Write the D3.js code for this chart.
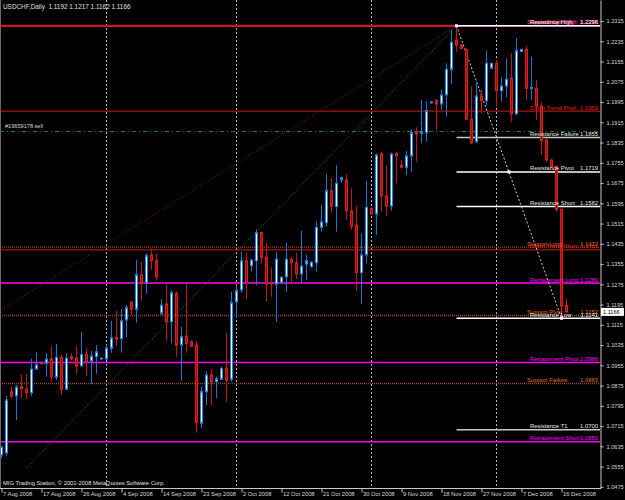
<!DOCTYPE html>
<html>
<head>
<meta charset="utf-8">
<script src="https://cdn.jsdelivr.net/npm/d3@7"></script>
<style>
body { margin: 0; background: #000; }
svg { display: block; font-family: "Liberation Sans", Arial, sans-serif; }
</style>
</head>
<body>
<div id="chart"></div>
<script>
// daily bars, Sun..Fri sessions
var dates = [
  "2008-08-07","2008-08-08",
  "2008-08-10","2008-08-11","2008-08-12","2008-08-13","2008-08-14","2008-08-15",
  "2008-08-17","2008-08-18","2008-08-19","2008-08-20","2008-08-21","2008-08-22",
  "2008-08-24","2008-08-25","2008-08-26","2008-08-27","2008-08-28","2008-08-29",
  "2008-08-31","2008-09-01","2008-09-02","2008-09-03","2008-09-04","2008-09-05",
  "2008-09-07","2008-09-08","2008-09-09","2008-09-10","2008-09-11","2008-09-12",
  "2008-09-14","2008-09-15","2008-09-16","2008-09-17","2008-09-18","2008-09-19",
  "2008-09-21","2008-09-22","2008-09-23","2008-09-24","2008-09-25","2008-09-26",
  "2008-09-28","2008-09-29","2008-09-30","2008-10-01","2008-10-02","2008-10-03",
  "2008-10-05","2008-10-06","2008-10-07","2008-10-08","2008-10-09","2008-10-10",
  "2008-10-12","2008-10-13","2008-10-14","2008-10-15","2008-10-16","2008-10-17",
  "2008-10-19","2008-10-20","2008-10-21","2008-10-22","2008-10-23","2008-10-24",
  "2008-10-26","2008-10-27","2008-10-28","2008-10-29","2008-10-30","2008-10-31",
  "2008-11-02","2008-11-03","2008-11-04","2008-11-05","2008-11-06","2008-11-07",
  "2008-11-09","2008-11-10","2008-11-11","2008-11-12","2008-11-13","2008-11-14",
  "2008-11-16","2008-11-17","2008-11-18","2008-11-19","2008-11-20","2008-11-21",
  "2008-11-23","2008-11-24","2008-11-25","2008-11-26","2008-11-27","2008-11-28",
  "2008-11-30","2008-12-01","2008-12-02","2008-12-03","2008-12-04","2008-12-05",
  "2008-12-07","2008-12-08","2008-12-09","2008-12-10","2008-12-11","2008-12-12",
  "2008-12-14","2008-12-15","2008-12-16","2008-12-17"
];

var open = [
  1.0601,1.0609, 1.0851,1.0834,1.0871,1.0861,1.0847,1.0940, 1.0963,1.0963,1.0980,1.0908,1.0987,1.0860,
  1.0989,1.0984,1.0952,1.0998,1.0971,1.0989, 1.0980,1.0980,1.1022,1.1066,1.1060,1.1134,
  1.1204,1.1176,1.1312,1.1279,1.1391,1.1368, 1.1160,1.1197,1.1127,1.1240,1.1035,1.1071,
  1.1048,1.1035,1.0726,1.0851,1.0917,1.0890, 1.0900,1.0943,1.0900,1.1206,1.1253,1.1368,
  1.1348,1.1368,1.1479,1.1382,1.1281,1.1276, 1.1281,1.1305,1.1374,1.1360,1.1316,1.1355,
  1.1345,1.1360,1.1500,1.1518,1.1645,1.1582, 1.1687,1.1687,1.1565,1.1509,1.1321,1.1391,
  1.1575,1.1553,1.1790,1.1624,1.1584,1.1792, 1.1746,1.1737,1.1782,1.1877,1.1871,1.1874,
  1.1992,1.2000,1.1987,1.2023,1.2124,1.2240, 1.2220,1.2203,1.1927,1.1838,1.2019,1.2000,
  1.2128,1.2148,1.2040,1.2058,1.2089,1.1948, 1.2194,1.2203,1.2049,1.2049,1.1979,1.1845,
  1.1766,1.1740,1.1571,1.1192
];
var high = [
  1.0636,1.0835, 1.0871,1.0877,1.0921,1.0921,1.0981,1.1008, 1.0965,1.1004,1.1031,1.1039,1.0996,1.1004,
  1.1004,1.1031,1.1087,1.1022,1.1012,1.1035, 1.0987,1.1035,1.1130,1.1171,1.1177,1.1193,
  1.1209,1.1371,1.1364,1.1397,1.1417,1.1397, 1.1217,1.1275,1.1250,1.1246,1.1108,1.1275,
  1.1055,1.1052,1.0871,1.0930,1.0940,1.0910, 1.0950,1.1084,1.1246,1.1272,1.1404,1.1400,
  1.1374,1.1492,1.1483,1.1439,1.1342,1.1404, 1.1308,1.1439,1.1384,1.1400,1.1487,1.1391,
  1.1366,1.1522,1.1588,1.1711,1.1694,1.1746, 1.1698,1.1711,1.1654,1.1584,1.1476,1.1684,
  1.1579,1.1792,1.1799,1.1746,1.1795,1.1799, 1.1766,1.1801,1.1887,1.1895,1.2003,1.1996,
  1.1999,1.2006,1.2043,1.2148,1.2280,1.2296, 1.2224,1.2207,1.2056,1.2075,1.2043,1.2198,
  1.2150,1.2161,1.2095,1.2168,1.2187,1.2247, 1.2204,1.2216,1.2174,1.2082,1.1996,1.1852,
  1.1769,1.1746,1.1575,1.1217
];
var low = [
  1.0589,1.0597, 1.0826,1.0739,1.0827,1.0822,1.0834,1.0938, 1.0958,1.0910,1.0890,1.0897,1.0838,1.0858,
  1.0976,1.0921,1.0950,1.0913,1.0881,1.0921, 1.0976,1.0976,1.1004,1.1031,1.1005,1.1066,
  1.1154,1.1123,1.1210,1.1239,1.1332,1.1289, 1.1154,1.1052,1.1042,1.0989,1.0894,1.1005,
  1.1027,1.0689,1.0707,1.0798,1.0798,1.0825, 1.0897,1.0811,1.0890,1.1141,1.1242,1.1216,
  1.1325,1.1272,1.1358,1.1206,1.1226,1.1127, 1.1276,1.1246,1.1276,1.1295,1.1281,1.1292,
  1.1340,1.1325,1.1483,1.1503,1.1558,1.1483, 1.1676,1.1529,1.1490,1.1250,1.1197,1.1358,
  1.1549,1.1470,1.1562,1.1545,1.1566,1.1674, 1.1734,1.1707,1.1720,1.1759,1.1832,1.1838,
  1.1988,1.1885,1.1964,1.1937,1.2066,1.2194, 1.2203,1.1924,1.1829,1.1834,1.1951,1.1983,
  1.2126,1.1977,1.1996,1.2014,1.1917,1.1944, 1.2193,1.2003,1.2003,1.1924,1.1786,1.1759,
  1.1734,1.1562,1.1141,1.1162
];
var close = [
  1.0632,1.0818, 1.0834,1.0869,1.0863,1.0847,1.0940,1.0957, 1.0961,1.0980,1.0910,1.0987,1.0860,1.0984,
  1.0980,1.0952,1.0998,1.0968,1.0992,1.1008, 1.0983,1.1023,1.1064,1.1058,1.1131,1.1183,
  1.1177,1.1313,1.1279,1.1388,1.1368,1.1305, 1.1193,1.1127,1.1242,1.1035,1.1068,1.1042,
  1.1031,1.0728,1.0851,1.0917,1.0890,1.0902, 1.0943,1.0897,1.1202,1.1250,1.1368,1.1285,
  1.1371,1.1479,1.1382,1.1276,1.1276,1.1374, 1.1303,1.1374,1.1360,1.1316,1.1347,1.1368,
  1.1362,1.1500,1.1522,1.1645,1.1584,1.1674, 1.1696,1.1565,1.1505,1.1321,1.1391,1.1579,
  1.1553,1.1786,1.1624,1.1584,1.1790,1.1782, 1.1737,1.1782,1.1874,1.1869,1.1878,1.1961,
  1.1996,1.1987,1.2023,1.2124,1.2231,1.2220, 1.2207,1.1927,1.1834,1.2019,1.2000,1.2148,
  1.2148,1.2040,1.2058,1.2085,1.1948,1.2198, 1.2203,1.2049,1.2053,1.1979,1.1842,1.1766,
  1.1740,1.1571,1.1189,1.1166
];

var tickDates = ["2008-08-07","2008-08-17","2008-08-26","2008-09-04","2008-09-14","2008-09-23","2008-10-02",
  "2008-10-12","2008-10-21","2008-10-30","2008-11-09","2008-11-18","2008-11-27","2008-12-07","2008-12-16"];
var tickLabels = ["7 Aug 2008","17 Aug 2008","26 Aug 2008","4 Sep 2008","14 Sep 2008","23 Sep 2008","2 Oct 2008",
  "12 Oct 2008","21 Oct 2008","30 Oct 2008","9 Nov 2008","18 Nov 2008","27 Nov 2008","7 Dec 2008","16 Dec 2008"];
var priceTicks = [1.2315,1.2235,1.2155,1.2075,1.1995,1.1915,1.1835,1.1755,1.1675,1.1595,1.1515,1.1435,
  1.1355,1.1275,1.1195,1.1115,1.1035,1.0955,1.0875,1.0795,1.0715,1.0635,1.0555,1.0475];
var monthStarts = ["2008-09-01","2008-10-01","2008-11-02","2008-12-01"];

// indicator levels
var levelNames = ["Down Trend High","Down Trend Pivot","Down Trend Short",
  "Support High","Support Long","Support Pivot","Support Failure",
  "Retracement High","Retracement Long","Retracement Pivot","Retracement Short",
  "Resistance High","Resistance Failure","Resistance Pivot","Resistance Short","Resistance Low","Resistance  T1"];
var levelValues = [1.2296,1.1959,1.1411, 1.2296,1.1422,1.1152,1.0883, 1.2296,1.1280,1.0966,1.0653,
  1.2296,1.1855,1.1719,1.1582,1.1141,1.0700];
var levelKinds = ["trend","trend","trend","support","support","support","support",
  "retr","retr","retr","retr","res","res2","res","res","res","res2"];

var swingHigh = ["2008-11-21", 1.2296];
var swingLow = ["2008-12-16", 1.1141];
var greenLine = [["2008-08-13", 1.0549], swingHigh];
var purpleLine = [["2008-08-07", 1.1174], swingHigh];
var orderName = "#19659178 sell", orderPrice = 1.1882;
var lastBar = {o: 1.1192, h: 1.1217, l: 1.1162, c: 1.1166};

var width = 625, height = 500;
var svg = d3.select("#chart").append("svg").attr("width", width).attr("height", height);
svg.append("rect").attr("width", width).attr("height", height).attr("fill", "#000");

var x = d3.scaleLinear().domain([0, dates.length - 1]).range([1.5, 1.5 + 5 * (dates.length - 1)]);
var y = d3.scaleLinear().domain([1.04704, 1.2398]).range([488, 0]);
var xd = function(d) { return x(dates.indexOf(d)); };

var plot = svg.append("g");
plot.append("clipPath").attr("id", "clip").append("rect").attr("width", 600).attr("height", 488);
plot.attr("clip-path", "url(#clip)");

// month separators
plot.selectAll("line.sep").data(monthStarts).enter().append("line")
  .attr("x1", xd).attr("x2", xd).attr("y1", 0).attr("y2", 488)
  .attr("stroke", "#b8b8b8").attr("stroke-dasharray", "2,2");

// trend lines
plot.append("line").attr("x1", xd(purpleLine[0][0])).attr("y1", y(purpleLine[0][1]))
  .attr("x2", xd(purpleLine[1][0])).attr("y2", y(purpleLine[1][1]))
  .attr("stroke", "#8a0a6a").attr("stroke-dasharray", "1,2");
plot.append("line").attr("x1", xd(greenLine[0][0])).attr("y1", y(greenLine[0][1]))
  .attr("x2", xd(greenLine[1][0])).attr("y2", y(greenLine[1][1]))
  .attr("stroke", "#138a13").attr("stroke-dasharray", "1,2");

// order line
plot.append("line").attr("x1", 0).attr("x2", 600)
  .attr("y1", Math.round(y(orderPrice)) + 0.5).attr("y2", Math.round(y(orderPrice)) + 0.5)
  .attr("stroke", "#0f8a0f").attr("stroke-dasharray", "4,3,1,3");
plot.append("text").attr("x", 5).attr("y", y(orderPrice) - 3).attr("fill", "#d8d8d8")
  .attr("font-size", "5.6px").text(orderName);

var styles = {
  trend:   {line: "#d41818", text: "#e42020", w: 1, dash: null},
  support: {line: "#9a4816", text: "#e0701a", w: 1.4, dash: "1,1"},
  retr:    {line: "#ff00ff", text: "#ff00ff", w: 1.5, dash: null},
  res:     {line: "#ffffff", text: "#e8e8e8", w: 1.5, dash: null},
  res2:    {line: "#c8c8c8", text: "#e8e8e8", w: 1.5, dash: null}
};
var levels = levelNames.map(function(n, i) { return {name: n, value: levelValues[i], kind: levelKinds[i]}; });
// red trend lines sit above support / retracement lines
var order = ["support", "retr", "trend", "res", "res2"];
levels.sort(function(a, b) { return order.indexOf(a.kind) - order.indexOf(b.kind); });

var hiX = xd(swingHigh[0]);
var isTop = function(d) { return d.value === swingHigh[1]; };
plot.selectAll("line.level").data(levels).enter().append("line")
  .attr("x1", function(d) { return d.kind.indexOf("res") === 0 ? hiX : 0; })
  .attr("x2", function(d) { return d.kind === "trend" && isTop(d) ? hiX : 600; })
  .attr("y1", function(d) { return y(d.value); }).attr("y2", function(d) { return y(d.value); })
  .attr("stroke", function(d) { return styles[d.kind].line; })
  .attr("stroke-width", function(d) { return d.kind === "trend" && isTop(d) ? 2 : styles[d.kind].w; })
  .attr("stroke-dasharray", function(d) { return styles[d.kind].dash; });

// zigzag from the swing high to the swing low
var pivotVal = levelValues[levelNames.indexOf("Resistance Pivot")];
var zx1 = xd(swingHigh[0]), zy1 = y(swingHigh[1]), zx2 = xd(swingLow[0]), zy2 = y(swingLow[1]);
var t = (y(pivotVal) - zy1) / (zy2 - zy1);
plot.append("line").attr("x1", zx1).attr("y1", zy1).attr("x2", zx2).attr("y2", zy2)
  .attr("stroke", "#d0d0d0").attr("stroke-dasharray", "2,2");

// candles
var bars = dates.map(function(d, i) { return {i: i, o: open[i], h: high[i], l: low[i], c: close[i]}; });
var cg = plot.selectAll("g.bar").data(bars).enter().append("g");
cg.append("line")
  .attr("x1", function(d) { return x(d.i); }).attr("x2", function(d) { return x(d.i); })
  .attr("y1", function(d) { return y(d.h); }).attr("y2", function(d) { return y(d.l); })
  .attr("stroke", function(d) { return d.c >= d.o ? "#1c74d6" : "#c41616"; });
cg.append("rect")
  .attr("x", function(d) { return x(d.i) - 1; }).attr("width", 2)
  .attr("y", function(d) { return y(Math.max(d.o, d.c)); })
  .attr("height", function(d) { return Math.max(0.6, Math.abs(y(d.o) - y(d.c))); })
  .attr("fill", function(d) { return d.c >= d.o ? "#ffffff" : "#9c0c0c"; })
  .attr("stroke", function(d) { return d.c >= d.o ? "#1e82e6" : "#dc1e1e"; });

// zigzag markers
var marks = [[zx1, zy1], [zx1 + t * (zx2 - zx1), y(pivotVal)], [zx2, zy2]];
plot.selectAll("rect.mk").data(marks).enter().append("rect")
  .attr("x", function(d) { return d[0] - 1.5; }).attr("y", function(d) { return d[1] - 1.5; })
  .attr("width", 3).attr("height", 3).attr("fill", "#ffffff");

// level labels
var lab = plot.selectAll("g.lab").data(levels).enter().append("g")
  .attr("fill", function(d) { return styles[d.kind].text; }).attr("font-size", "5.9px");
lab.append("text").attr("x", function(d) { return d.kind === "support" ? 527 : 530; })
  .attr("y", function(d) { return y(d.value) - 1.5; }).text(function(d) { return d.name; });
lab.append("text").attr("x", 598).attr("text-anchor", "end")
  .attr("y", function(d) { return y(d.value) - 1.5; }).text(function(d) { return d.value.toFixed(4); });

// header and footer
svg.append("text").attr("x", 3).attr("y", 9).attr("fill", "#e0e0e0").attr("font-size", "6.4px")
  .attr("xml:space", "preserve")
  .text("USDCHF,Daily  " + [lastBar.o, lastBar.h, lastBar.l, lastBar.c].map(function(v) { return v.toFixed(4); }).join(" "));
svg.append("text").attr("x", 3).attr("y", 485).attr("fill", "#e0e0e0").attr("font-size", "5.8px")
  .text("MIG Trading Station, \u00a9 2001-2008 MetaQuotes Software Corp.");

// left edge
svg.append("line").attr("x1", 0.5).attr("x2", 0.5).attr("y1", 0).attr("y2", 488).attr("stroke", "#6a6a6a");

// price axis
var yAxis = d3.axisRight(y).tickValues(priceTicks).tickSize(3).tickSizeOuter(0).tickFormat(d3.format(".4f"));
var ya = svg.append("g").attr("transform", "translate(600.5,0)").call(yAxis);
ya.select(".domain").attr("stroke", "#c8c8c8");
ya.selectAll(".tick line").attr("stroke", "#c8c8c8");
ya.selectAll(".tick text").attr("fill", "#d8d8d8").attr("font-size", "5.6px")
  .attr("font-family", "Liberation Sans, Arial, sans-serif").attr("x", 6);

// time axis
var xAxis = d3.axisBottom(x).tickValues(tickDates.map(function(d) { return dates.indexOf(d); }))
  .tickSize(4).tickSizeOuter(0).tickFormat(function(d, i) { return tickLabels[i]; });
var xa = svg.append("g").attr("transform", "translate(0,488.5)").call(xAxis);
xa.select(".domain").remove();
xa.append("line").attr("x1", 0).attr("x2", 601).attr("stroke", "#c8c8c8");
xa.selectAll(".tick line").attr("stroke", "#c8c8c8");
xa.selectAll(".tick text").attr("fill", "#d8d8d8").attr("font-size", "5.8px")
  .attr("font-family", "Liberation Sans, Arial, sans-serif")
  .attr("text-anchor", "start").attr("x", 1).attr("y", 3.5).attr("dy", "0.71em");

// current price box
var cy = y(lastBar.c);
svg.append("rect").attr("x", 601).attr("y", cy - 4).attr("width", 23).attr("height", 8).attr("fill", "#ffffff");
svg.append("text").attr("x", 603).attr("y", cy + 2).attr("fill", "#000").attr("font-size", "5.6px")
  .text(lastBar.c.toFixed(4));
</script>
</body>
</html>
